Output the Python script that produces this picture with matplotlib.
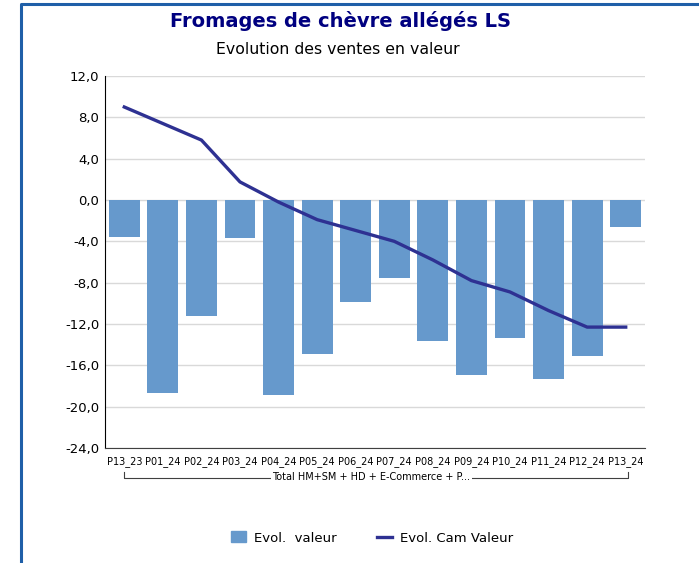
import numpy as np
import matplotlib.pyplot as plt
from matplotlib.lines import Line2D
from matplotlib.patches import Rectangle
import matplotlib.transforms as mtransforms

# données
periods = ['P13_23', 'P01_24', 'P02_24', 'P03_24', 'P04_24', 'P05_24', 'P06_24',
           'P07_24', 'P08_24', 'P09_24', 'P10_24', 'P11_24', 'P12_24', 'P13_24']
evol_valeur = [-3.6, -18.7, -11.2, -3.7, -18.9, -14.9, -9.9,
               -7.5, -13.6, -16.9, -13.4, -17.3, -15.1, -2.6]
evol_cam = [9.0, 7.4, 5.8, 1.75, -0.2, -1.9, -2.95,
            -4.0, -5.8, -7.8, -8.9, -10.7, -12.3, -12.3]
yticks = [12, 8, 4, 0, -4, -8, -12, -16, -20, -24]
group_label = 'Total HM+SM + HD + E-Commerce + P...'

bar_color = '#6699CC'
line_color = '#2E3192'

fig = plt.figure(figsize=(6.99, 5.63), dpi=100)
ax = fig.add_axes([105/699, 115/563, 540/699, 372/563])

x = np.arange(len(periods))
ax.bar(x, evol_valeur, width=0.8, color=bar_color, zorder=2, label='Evol.  valeur')
ax.plot(x, evol_cam, color=line_color, lw=2.4, zorder=3, label='Evol. Cam Valeur')

ax.set_xlim(-0.5, len(periods) - 0.5)
ax.set_ylim(-24, 12)
ax.set_yticks(yticks)
ax.set_yticklabels([f'{v:.1f}'.replace('.', ',') for v in yticks], fontsize=9.5)
ax.set_xticks(x)
ax.set_xticklabels(periods, fontsize=7)
ax.tick_params(axis='x', length=0, pad=6)
ax.tick_params(axis='y', length=0, pad=4)
ax.grid(axis='y', color='#D9D9D9', lw=1, zorder=0)
for s in ['top', 'right']:
    ax.spines[s].set_visible(False)
ax.spines['left'].set_color('black')
ax.spines['bottom'].set_color('#404040')

# accolade du groupe
tr = mtransforms.blended_transform_factory(ax.transData, ax.transAxes)
ax.plot([0, 0, 13.05, 13.05], [-0.064, -0.081, -0.081, -0.064], color='#404040',
        lw=0.8, transform=tr, clip_on=False)
ax.text(6.4, -0.078, group_label, transform=tr, ha='center', va='center', fontsize=7,
        bbox=dict(facecolor='white', edgecolor='none', pad=1))

# titres
fig.text(340/699, 1 - 21/563, 'Fromages de chèvre allégés LS', ha='center', va='center',
         fontsize=14, fontweight='bold', color='#000080')
fig.text(338/699, 1 - 50/563, 'Evolution des ventes en valeur', ha='center', va='center',
         fontsize=11.3)

# légende
handles = [Rectangle((0, 0), 1, 1, color=bar_color),
           Line2D([0], [0], color=line_color, lw=2.4)]
fig.legend(handles, ['Evol.  valeur', 'Evol. Cam Valeur'], loc='center',
           bbox_to_anchor=(372/699, 1 - 538/563), ncol=2, frameon=False, fontsize=9.5,
           handlelength=1.2, handleheight=0.9, columnspacing=3.0, handletextpad=0.6)

# cadre
fig.add_artist(Line2D([21/699, 21/699, 1], [0, 1 - 4/563, 1 - 4/563],
                      transform=fig.transFigure, color='#1F5FA8', lw=2.2))

fig.savefig('out.png', dpi=100)
